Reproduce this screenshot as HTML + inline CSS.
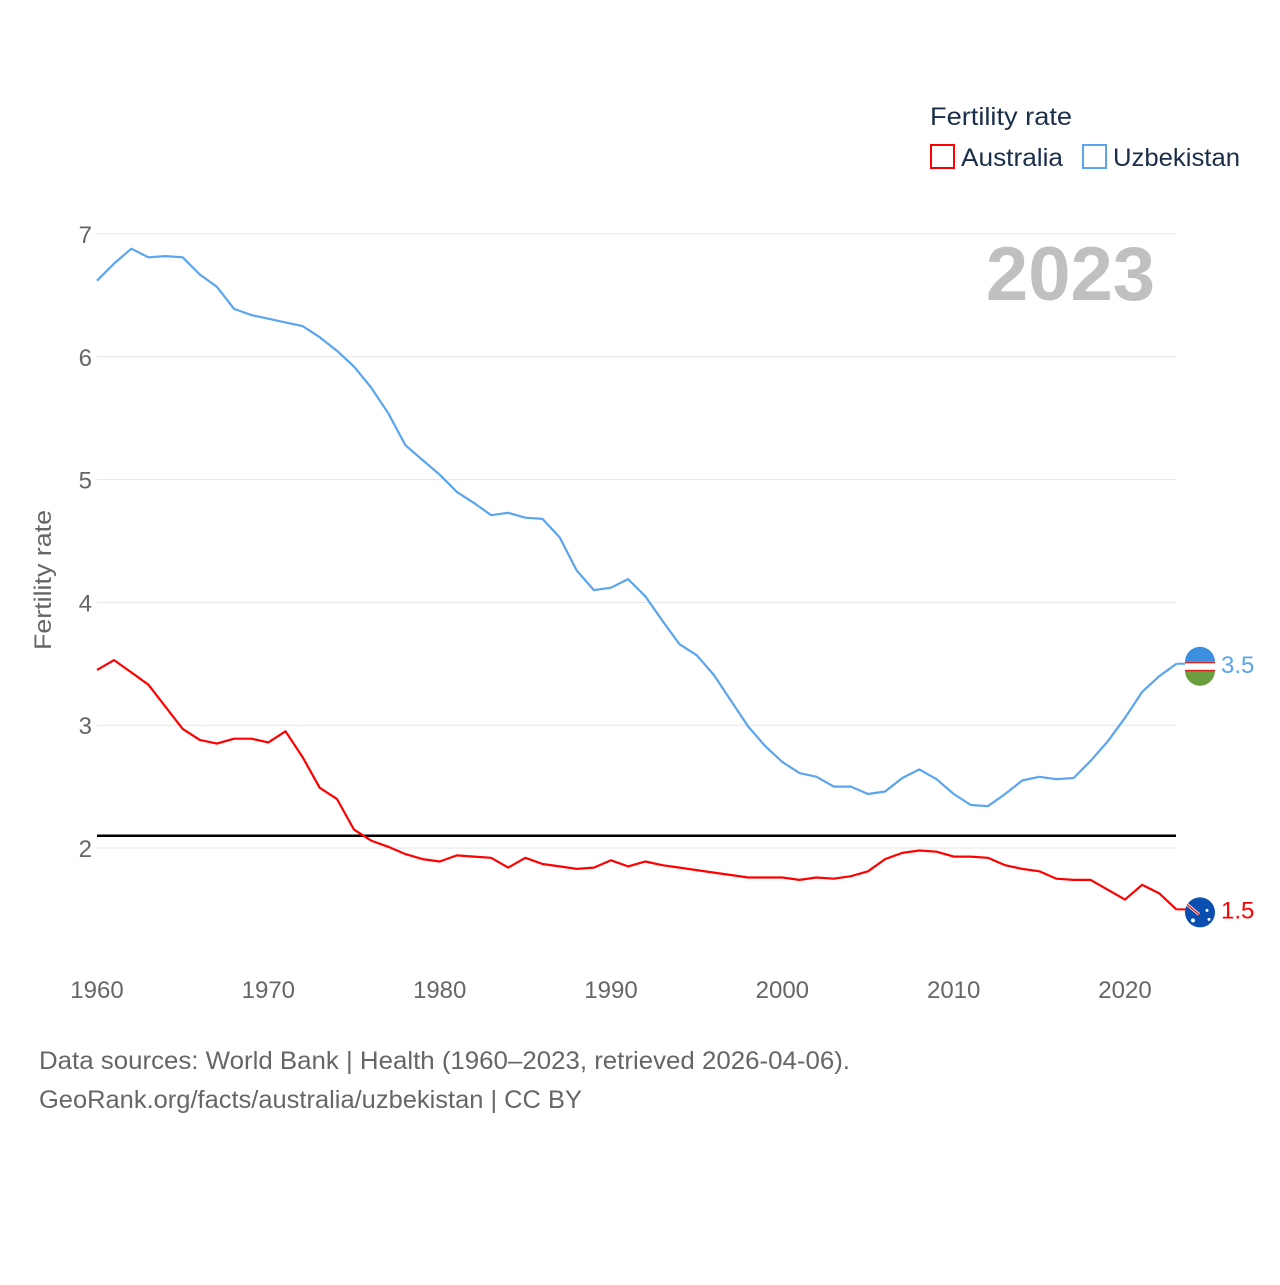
<!DOCTYPE html>
<html><head><meta charset="utf-8"><style>
html,body{margin:0;padding:0;background:#fff;}
body{width:1280px;height:1280px;overflow:hidden;font-family:"Liberation Sans",sans-serif;}
</style></head><body>
<svg id="chart" width="1280" height="1280" xmlns="http://www.w3.org/2000/svg" font-family="Liberation Sans, sans-serif">
<g id="grid"></g>
<g id="yticks"></g>
<g id="xticks"></g>
<text transform="translate(51,580) rotate(-90)" text-anchor="middle" font-size="24" fill="#666" textLength="140" lengthAdjust="spacingAndGlyphs">Fertility rate</text>
<text x="1155" y="300" text-anchor="end" font-size="76" font-weight="bold" fill="#c0c0c0">2023</text>
<g>
<text x="930" y="125" font-size="25" fill="#1a2e4a" textLength="142" lengthAdjust="spacingAndGlyphs">Fertility rate</text>
<rect x="931" y="145" width="23" height="23" fill="none" stroke="#ff0000" stroke-width="2"/>
<text x="961" y="166" font-size="25" fill="#1a2e4a" textLength="102" lengthAdjust="spacingAndGlyphs">Australia</text>
<rect x="1083" y="145" width="23" height="23" fill="none" stroke="#5aa5ee" stroke-width="2"/>
<text x="1113" y="166" font-size="25" fill="#1a2e4a" textLength="127" lengthAdjust="spacingAndGlyphs">Uzbekistan</text>
</g>
<g id="series"></g>
<text x="39" y="1069" font-size="25" fill="#666" textLength="811" lengthAdjust="spacingAndGlyphs">Data sources: World Bank | Health (1960–2023, retrieved 2026-04-06).</text>
<text x="39" y="1108" font-size="25" fill="#666" textLength="543" lengthAdjust="spacingAndGlyphs">GeoRank.org/facts/australia/uzbekistan | CC BY</text>
</svg>
<script>
const years = [];
for (let y = 1960; y <= 2023; y++) years.push(y);
const uzbekistan = [6.62,6.76,6.88,6.81,6.82,6.81,6.67,6.57,6.39,6.34,6.31,6.28,6.25,6.16,6.05,5.92,5.75,5.54,5.28,5.16,5.04,4.90,4.81,4.71,4.73,4.69,4.68,4.53,4.26,4.10,4.12,4.19,4.05,3.85,3.66,3.57,3.41,3.20,2.99,2.83,2.70,2.61,2.58,2.50,2.50,2.44,2.46,2.57,2.64,2.56,2.44,2.35,2.34,2.44,2.55,2.58,2.56,2.57,2.71,2.87,3.06,3.27,3.40,3.50];
const australia = [3.45,3.53,3.43,3.33,3.15,2.97,2.88,2.85,2.89,2.89,2.86,2.95,2.74,2.49,2.40,2.15,2.06,2.01,1.95,1.91,1.89,1.94,1.93,1.92,1.84,1.92,1.87,1.85,1.83,1.84,1.90,1.85,1.89,1.86,1.84,1.82,1.80,1.78,1.76,1.76,1.76,1.74,1.76,1.75,1.77,1.81,1.91,1.96,1.98,1.97,1.93,1.93,1.92,1.86,1.83,1.81,1.75,1.74,1.74,1.66,1.58,1.70,1.63,1.50];
const yTicks = [2,3,4,5,6,7];
const xTicks = [1960,1970,1980,1990,2000,2010,2020];
const replacementRate = [2.1];

const NS = "http://www.w3.org/2000/svg";
const xs = yr => 97 + (yr - 1960) * (1028 / 60);
const ys = v => 848 - (v - 2) * (614 / 5);
function mk(tag, attrs, parent) {
  const e = document.createElementNS(NS, tag);
  for (const k in attrs) e.setAttribute(k, attrs[k]);
  parent.appendChild(e);
  return e;
}
const grid = document.getElementById('grid'), yt = document.getElementById('yticks'), xt = document.getElementById('xticks'), ser = document.getElementById('series');
yTicks.forEach(v => {
  const l = mk('line', {x1: 97, x2: 1176, y1: ys(v), y2: ys(v), stroke: '#e6e6e6', 'stroke-width': 1}, grid);
  
  
  const t = mk('text', {x: 92, y: ys(v) + 9, 'text-anchor': 'end', 'font-size': 24, fill: '#666'}, yt);
  t.textContent = v;
  
  
});
xTicks.forEach(v => {
  const t = mk('text', {x: xs(v), y: 998, 'text-anchor': 'middle', 'font-size': 24, fill: '#666'}, xt);
  t.textContent = v;
  
  
});
replacementRate.forEach(v => {
  const l = mk('line', {x1: 97, x2: 1176, y1: ys(v), y2: ys(v), stroke: '#000', 'stroke-width': 2.5}, ser);
  
  
});
function drawSeries(vals, color, name) {
  const d = vals.map((v, i) => (i ? 'L' : 'M') + xs(years[i]).toFixed(1) + ',' + ys(v).toFixed(1)).join('');
  const p = mk('path', {d: d, fill: 'none', stroke: color, 'stroke-width': 2.2, 'stroke-linejoin': 'round'}, ser);
  
  
  const last = vals[vals.length - 1], lx = xs(years[years.length - 1]), ly = ys(last);
  const c = mk('line', {x1: lx, y1: ly, x2: 1200, y2: ly, stroke: color, 'stroke-width': 2}, ser);
  
  
  const g = mk('g', {}, ser);
  
  
  if (name === 'uzbekistan') {
    mk('circle', {cx: 1200, cy: ly + 3, r: 15, fill: '#fff'}, g);
    mk('path', {d: `M1185,${ly - 2} A15,15 0 0 1 1215,${ly - 2} Z`, fill: '#3d8fe0'}, g);
    mk('path', {d: `M1185,${ly + 7} A15,15 0 0 0 1215,${ly + 7} Z`, fill: '#6a9e3f'}, g);
    mk('rect', {x: 1185, y: ly - 2, width: 30, height: 1.5, fill: '#d22'}, g);
    mk('rect', {x: 1185, y: ly + 6, width: 30, height: 1.5, fill: '#d22'}, g);
  } else {
    mk('circle', {cx: 1200, cy: ly + 3, r: 15, fill: '#0a4fb0'}, g);
    mk('path', {d: `M1187,${ly - 5} L1199,${ly + 5}`, stroke: '#fff', 'stroke-width': 3}, g);
    mk('path', {d: `M1187,${ly - 5} L1199,${ly + 5}`, stroke: '#e22', 'stroke-width': 1.5}, g);
    mk('circle', {cx: 1193, cy: ly + 11, r: 2, fill: '#fff'}, g);
    mk('circle', {cx: 1207, cy: ly + 1, r: 1.5, fill: '#fff'}, g);
    mk('circle', {cx: 1209, cy: ly + 10, r: 1.5, fill: '#fff'}, g);
  }
  const t = mk('text', {x: 1221, y: ly + 9, 'font-size': 24, fill: color}, ser);
  t.textContent = last.toFixed(1);
  
  
}
drawSeries(uzbekistan, '#5aa5ee', 'uzbekistan');
drawSeries(australia, '#ff0000', 'australia');
</script>
</body></html>
